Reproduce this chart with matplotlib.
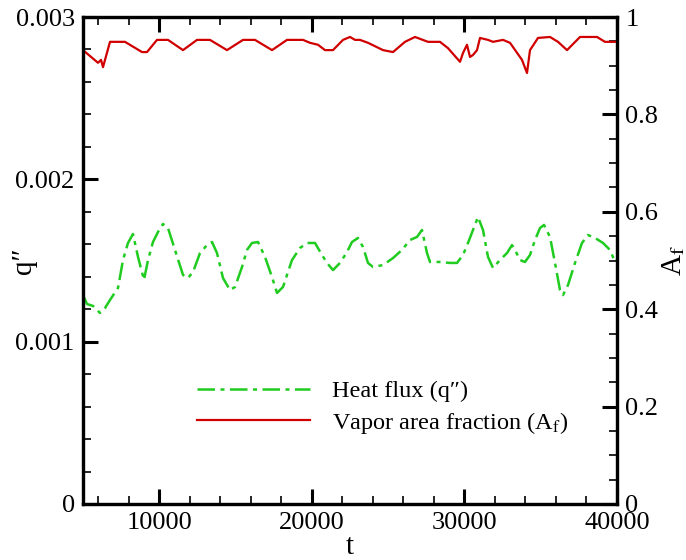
import matplotlib
matplotlib.use("Agg")
import matplotlib.pyplot as plt
from matplotlib.ticker import MultipleLocator, FixedLocator

# Vapor area fraction A_f over time
t_af = [5000, 5983, 6180, 6311, 6770, 7753, 8867, 9195, 9850, 10571,
        11554, 12472, 13324, 14438, 15487, 16273, 17388, 18371, 19419, 19878,
        20403, 20861, 21386, 22041, 22500, 22828, 23155, 23680, 24663, 25318,
        26105, 26760, 27612, 28399, 28923, 29710, 29906, 30168, 30365, 30562,
        30824, 31021, 31545, 31873, 32528, 32987, 33773, 34101, 34298, 34822,
        35609, 36133, 36723, 37575, 38689, 39213, 40000]
af = [0.932, 0.906, 0.912, 0.897, 0.949, 0.949, 0.928, 0.928, 0.953, 0.953,
      0.932, 0.953, 0.953, 0.932, 0.953, 0.953, 0.932, 0.953, 0.953, 0.947,
      0.943, 0.932, 0.932, 0.953, 0.959, 0.953, 0.953, 0.947, 0.932, 0.928,
      0.949, 0.959, 0.949, 0.949, 0.936, 0.908, 0.926, 0.943, 0.918, 0.922,
      0.932, 0.957, 0.953, 0.949, 0.953, 0.947, 0.912, 0.885, 0.932, 0.957,
      0.959, 0.949, 0.932, 0.959, 0.959, 0.949, 0.949]

# Wall heat flux q'' over time (units of 1e-3)
t_q = [5000, 5262, 5655, 6114, 6442, 6770, 7294, 7622, 7949, 8277,
       8605, 8998, 9260, 9588, 9916, 10243, 10571, 11030, 11554, 11882,
       12210, 12669, 13127, 13455, 13783, 14176, 14635, 14963, 15422, 15749,
       16077, 16470, 16929, 17388, 17716, 18109, 18698, 19223, 19681, 20206,
       20665, 20992, 21386, 21845, 22303, 22631, 23024, 23352, 23680, 24008,
       24663, 25318, 25908, 26432, 26891, 27219, 27547, 27743, 28399, 29054,
       29513, 29906, 30234, 30562, 30889, 31217, 31545, 31873, 32331, 32790,
       33118, 33315, 33642, 33970, 34298, 34626, 34953, 35216, 35609, 35936,
       36264, 36461, 36789, 37247, 37706, 38099, 38558, 39082, 39541, 39869,
       40000]
q_milli = [1.287, 1.232, 1.220, 1.177, 1.207, 1.257, 1.331, 1.503, 1.608, 1.663,
           1.522, 1.380, 1.503, 1.614, 1.676, 1.725, 1.700, 1.565, 1.411, 1.392,
           1.429, 1.546, 1.595, 1.614, 1.546, 1.392, 1.318, 1.337, 1.460, 1.565,
           1.608, 1.614, 1.522, 1.398, 1.300, 1.337, 1.503, 1.577, 1.608, 1.608,
           1.534, 1.485, 1.441, 1.485, 1.552, 1.614, 1.639, 1.583, 1.485, 1.460,
           1.472, 1.515, 1.565, 1.626, 1.645, 1.688, 1.546, 1.491, 1.491, 1.485,
           1.485, 1.534, 1.608, 1.688, 1.768, 1.688, 1.522, 1.454, 1.503, 1.546,
           1.595, 1.565, 1.503, 1.491, 1.534, 1.626, 1.700, 1.719, 1.645, 1.485,
           1.318, 1.287, 1.349, 1.485, 1.608, 1.657, 1.639, 1.608, 1.565, 1.491,
           1.503]
qflux = [v * 1e-3 for v in q_milli]

x_ticks = [10000, 20000, 30000, 40000]
q_ticks = [0, 0.001, 0.002, 0.003]
q_tick_labels = ["0", "0.001", "0.002", "0.003"]
af_ticks = [0, 0.2, 0.4, 0.6, 0.8, 1.0]
af_tick_labels = ["0", "0.2", "0.4", "0.6", "0.8", "1"]

plt.rcParams["font.family"] = ["Liberation Serif", "DejaVu Serif"]
plt.rcParams["mathtext.fontset"] = "stix"

fig = plt.figure(figsize=(6.86, 5.6), dpi=100)
ax = fig.add_axes([83 / 686, 1 - 504 / 560, 534 / 686, 487 / 560])
ax2 = ax.twinx()

green = "#1fcc1f"
red = "#d00000"
l1, = ax.plot(t_q, qflux, color=green, lw=1.8,
              dashes=(7, 2.2, 1.6, 2.2), label="Heat flux (q\u2033)")
l2, = ax2.plot(t_af, af, color=red, lw=1.6,
               label="Vapor area fraction (A$_{\\mathrm{f}}$)")

ax.set_xlim(5000, 40000)
ax.set_ylim(0, 0.003)
ax2.set_ylim(0, 1)

ax.xaxis.set_major_locator(FixedLocator(x_ticks))
ax.xaxis.set_minor_locator(MultipleLocator(2000))
ax.set_xticklabels([str(v) for v in x_ticks])
ax.yaxis.set_major_locator(FixedLocator(q_ticks))
ax.set_yticklabels(q_tick_labels)
ax.yaxis.set_minor_locator(MultipleLocator(0.0002))
ax2.yaxis.set_major_locator(FixedLocator(af_ticks))
ax2.set_yticklabels(af_tick_labels)
ax2.yaxis.set_minor_locator(MultipleLocator(0.05))

for a in (ax, ax2):
    for s in a.spines.values():
        s.set_linewidth(2.3)
ax.tick_params(which="both", direction="in", top=True, right=False,
               labelsize=19, pad=6)
ax.tick_params(which="major", length=11, width=2.2)
ax.tick_params(which="minor", length=6, width=1.2)
ax2.tick_params(which="both", direction="in", labelsize=19, pad=6)
ax2.tick_params(which="major", length=11, width=2.2)
ax2.tick_params(which="minor", length=6, width=1.2)

ax.set_xlabel("t", fontsize=21)
ax.set_ylabel("q\u2033", fontsize=21)
ax2.set_ylabel("A$_{\\mathrm{f}}$", fontsize=21)
ax.xaxis.set_label_coords(0.5, -0.062)
ax.yaxis.set_label_coords(-0.086, 0.5)
ax2.yaxis.set_label_coords(1.08, 0.5)

ax.legend(handles=[l1, l2], loc="center left",
          bbox_to_anchor=(0.2135, 0.197), frameon=False, fontsize=17.5,
          handlelength=4.65, handletextpad=0.9, labelspacing=0.3,
          borderpad=0, borderaxespad=0)

fig.savefig("out.png", dpi=100)
